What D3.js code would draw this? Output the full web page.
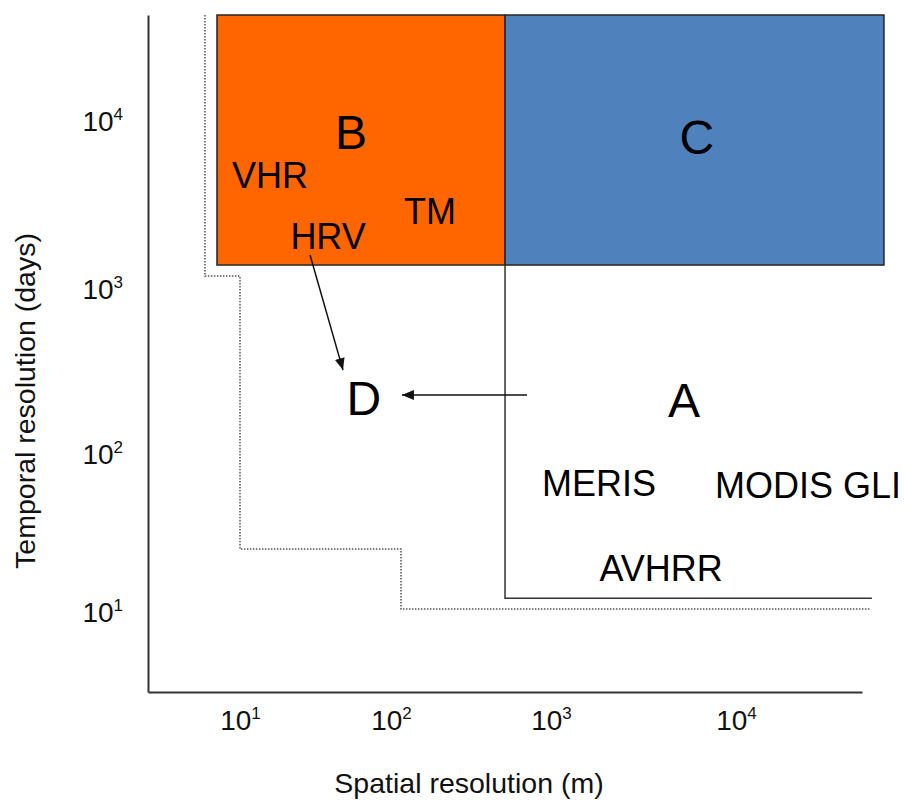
<!DOCTYPE html>
<html>
<head>
<meta charset="utf-8">
<script src="https://cdn.jsdelivr.net/npm/d3@7"></script>
<style>
  body { margin: 0; background: #fff; }
  svg { font-family: "Liberation Sans", Arial, sans-serif; }
</style>
</head>
<body>
<div id="chart"></div>
<script>
// schematic: spatial vs temporal resolution of sensors

// tick values (log axes, both decades)
var xTicks = [10, 100, 1000, 10000];
var yTicks = [10, 100, 1000, 10000];

// ends of the drawn axes (data units)
var xEnds = [2.46, 48000];
var yEnds = [3.16, 43300];

// shaded regions B and C : [x0, x1, y0, y1]
var regionBox = {
    B: [7.04, 516, 1408, 43300],
    C: [516, 63100, 1408, 43300]
};
var regionFill = { B: "#FF6600", C: "#4F81BD" };

// boundary of region A (solid) and of the dotted envelope
var boundA_x = [516, 516, 54300];
var boundA_y = [1408, 12.4, 12.4];
var dotted_x = [5.86, 5.86, 10, 10, 115.5, 115.5, 53000];
var dotted_y = [43300, 1211, 1211, 25.4, 25.4, 10.6, 10.6];

// big region letters
var regionNames = ["B", "C", "D", "A"];
var regionX = [54.3, 6150, 66.2, 5240];
var regionY = [8720, 8140, 221, 215];

// sensor names
var sensorNames = ["VHR", "TM", "HRV", "MERIS", "MODIS GLI", "AVHRR"];
var sensorX = [15.8, 175, 38.3, 1816, 24500, 3935];
var sensorY = [4840, 2950, 2095, 66.5, 64.6, 19.3];

// arrows: [x0, y0, x1, y1]
var arrows = [
    [29.1, 1615, 48.1, 327],
    [708, 231, 117, 231]
];

var width = 905, height = 805;

var svg = d3.select("#chart").append("svg")
    .attr("width", width)
    .attr("height", height);

// piecewise log scales (decades are not evenly spaced in the original)
var x = d3.scaleLog()
    .domain([xEnds[0]].concat(xTicks, [xEnds[1]]))
    .range([148, 240, 391, 551, 736, 862]);

var y = d3.scaleLog()
    .domain([yEnds[0]].concat(yTicks, [yEnds[1]]))
    .range([692, 613, 455, 290, 122, 15]);

var defs = svg.append("defs");
defs.append("marker")
    .attr("id", "head")
    .attr("viewBox", "0 0 12 10")
    .attr("refX", 12)
    .attr("refY", 5)
    .attr("markerWidth", 12)
    .attr("markerHeight", 10)
    .attr("markerUnits", "userSpaceOnUse")
    .attr("orient", "auto")
    .append("path")
    .attr("d", "M0,0 L12,5 L0,10 z")
    .attr("fill", "#111");

// dotted envelope
var line = d3.line()
    .x(function(d) { return x(d[0]); })
    .y(function(d) { return y(d[1]); });

svg.append("path")
    .datum(d3.zip(dotted_x, dotted_y))
    .attr("d", line)
    .attr("fill", "none")
    .attr("stroke", "#555")
    .attr("stroke-width", 1.5)
    .attr("stroke-dasharray", "1.5,1.5");

// region boxes
Object.keys(regionBox).forEach(function(k) {
    var b = regionBox[k];
    svg.append("rect")
        .attr("x", x(b[0]))
        .attr("y", y(b[3]))
        .attr("width", x(b[1]) - x(b[0]))
        .attr("height", y(b[2]) - y(b[3]))
        .attr("fill", regionFill[k])
        .attr("stroke", "#262626")
        .attr("stroke-width", 1.5);
});

// region A boundary
svg.append("path")
    .datum(d3.zip(boundA_x, boundA_y))
    .attr("d", line)
    .attr("fill", "none")
    .attr("stroke", "#333")
    .attr("stroke-width", 1.5);

// axes
var xAxis = d3.axisBottom(x)
    .tickValues(xTicks)
    .tickSize(0)
    .tickSizeOuter(0)
    .tickPadding(18)
    .tickFormat(function() { return ""; });

var yAxis = d3.axisLeft(y)
    .tickValues(yTicks)
    .tickSize(0)
    .tickSizeOuter(0)
    .tickPadding(25)
    .tickFormat(function() { return ""; });

var gx = svg.append("g")
    .attr("transform", "translate(0,692)")
    .call(xAxis);

var gy = svg.append("g")
    .attr("transform", "translate(148,0)")
    .call(yAxis);

[gx, gy].forEach(function(g) {
    g.select(".domain")
        .attr("stroke", "#333")
        .attr("stroke-width", 2);
    g.selectAll(".tick text")
        .attr("font-size", 28)
        .attr("font-family", "Liberation Sans, Arial, sans-serif")
        .attr("fill", "#111")
        .each(function(d) {
            var t = d3.select(this);
            t.text("10");
            t.append("tspan")
                .attr("dy", -11)
                .attr("font-size", 17)
                .text(Math.round(Math.log10(d)));
        });
});

// arrows
svg.selectAll(".arrow")
    .data(arrows)
    .enter()
    .append("line")
    .attr("class", "arrow")
    .attr("x1", function(d) { return x(d[0]); })
    .attr("y1", function(d) { return y(d[1]); })
    .attr("x2", function(d) { return x(d[2]); })
    .attr("y2", function(d) { return y(d[3]); })
    .attr("stroke", "#111")
    .attr("stroke-width", 1.5)
    .attr("marker-end", "url(#head)");

// region letters
svg.selectAll(".region")
    .data(regionNames)
    .enter()
    .append("text")
    .attr("class", "region")
    .attr("x", function(d, i) { return x(regionX[i]); })
    .attr("y", function(d, i) { return y(regionY[i]); })
    .attr("dy", "0.36em")
    .attr("text-anchor", "middle")
    .attr("font-size", 48)
    .attr("fill", "#000")
    .text(function(d) { return d; });

// sensor names
svg.selectAll(".sensor")
    .data(sensorNames)
    .enter()
    .append("text")
    .attr("class", "sensor")
    .attr("x", function(d, i) { return x(sensorX[i]); })
    .attr("y", function(d, i) { return y(sensorY[i]); })
    .attr("dy", "0.36em")
    .attr("text-anchor", "middle")
    .attr("font-size", 36)
    .attr("fill", "#000")
    .text(function(d) { return d; });

// axis titles
svg.append("text")
    .attr("x", 469)
    .attr("y", 793)
    .attr("text-anchor", "middle")
    .attr("font-size", 28.5)
    .attr("fill", "#111")
    .text("Spatial resolution (m)");

svg.append("text")
    .attr("transform", "translate(25,401) rotate(-90)")
    .attr("dy", "0.36em")
    .attr("text-anchor", "middle")
    .attr("font-size", 28.5)
    .attr("fill", "#111")
    .text("Temporal resolution (days)");
</script>
</body>
</html>
